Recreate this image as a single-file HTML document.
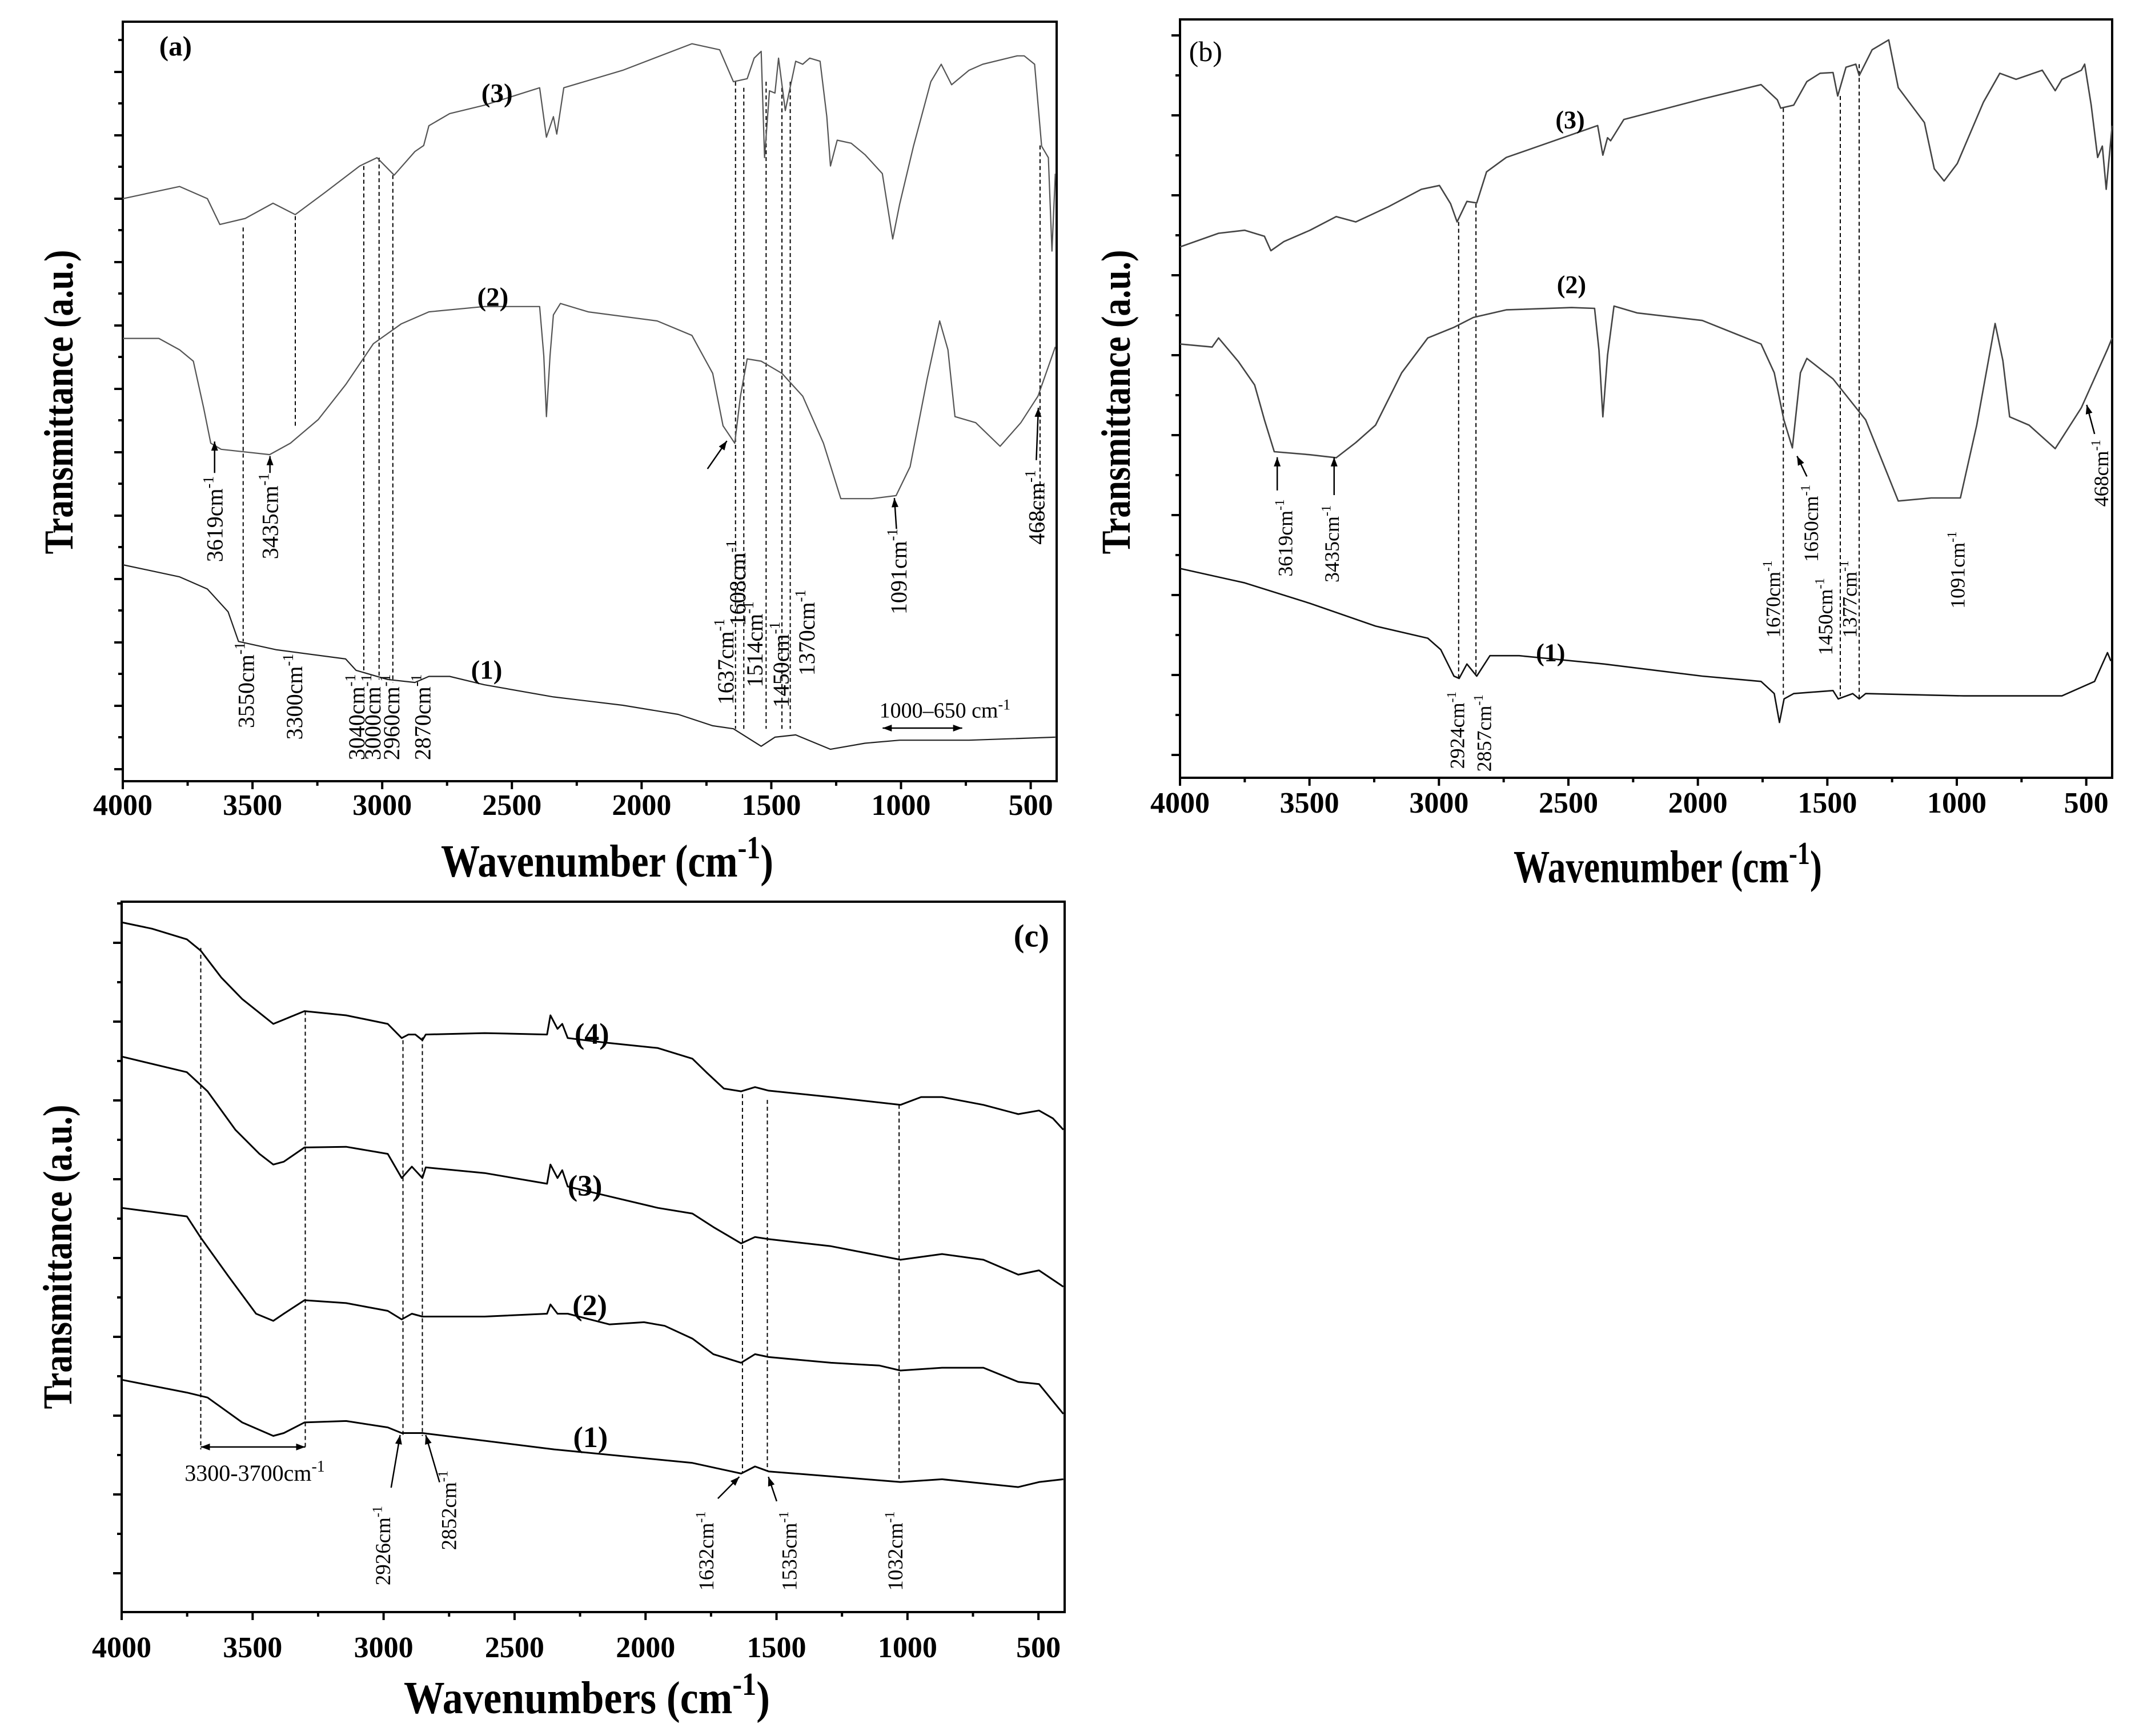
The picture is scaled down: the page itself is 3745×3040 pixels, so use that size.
<!DOCTYPE html>
<html><head><meta charset="utf-8"><style>
html,body{margin:0;padding:0;background:#fff}
svg{display:block}
text{font-family:"Liberation Serif",serif}
</style></head><body>
<svg id="fig" xmlns="http://www.w3.org/2000/svg" width="3745" height="3040" viewBox="0 0 3745 3040"></svg>
<script>
// ---------- Panel (a) data: wavenumber (cm-1) and transmittance (a.u., 0-100 of panel) ----------
const A_CM3=[4000,3781,3674,3626,3528,3421,3335,3221,3087,3020,2954,2874,2840,2820,2740,2607,2393,2367,2340,2327,2300,2073,1806,1699,1646,1593,1566,1539,1526,1507,1486,1472,1446,1406,1379,1352,1312,1286,1272,1246,1192,1139,1072,1032,1005,952,885,845,805,738,685,552,525,485,458,432,418,405];
const A_T3=[76.7,78.3,76.7,73.3,74.1,76.1,74.6,77.5,81.0,82.1,79.8,82.9,83.7,86.3,87.9,89.0,91.3,84.8,87.5,85.2,91.3,93.6,97.1,96.3,92.1,92.5,95.2,96.1,82.1,90.9,90.6,95.2,88.3,94.8,94.4,95.2,94.8,87.5,81.0,84.4,84.0,82.5,80.0,71.4,76.0,83.6,92.1,94.4,91.7,93.6,94.4,95.5,95.5,94.4,83.6,82.1,69.8,80.0];
const A_CM2=[4000,3861,3781,3728,3688,3661,3621,3434,3354,3247,3141,3034,2927,2820,2607,2393,2377,2367,2353,2340,2313,2206,1940,1806,1726,1686,1641,1619,1593,1539,1459,1379,1299,1232,1112,1019,965,899,851,819,792,712,618,538,472,405];
const A_T2=[58.3,58.3,56.8,55.3,49.1,44.5,43.7,43.0,44.5,47.6,52.2,57.6,60.2,61.8,62.5,62.5,56.0,48.0,56.0,61.4,62.9,61.8,60.6,58.7,53.7,46.8,44.5,50.7,55.6,55.3,53.7,50.7,44.5,37.2,37.2,37.6,41.4,53.0,60.6,56.8,48.0,47.2,44.1,47.2,50.7,57.2];
const A_CM1=[4000,3781,3674,3594,3554,3407,3141,3101,2980,2874,2820,2740,2607,2340,2073,1859,1726,1646,1539,1486,1406,1272,1139,1005,738,405];
const A_T1=[28.5,26.9,25.3,22.3,18.4,17.3,16.1,14.6,13.4,13.0,13.8,13.8,12.7,11.1,10.0,8.8,7.3,6.9,4.6,5.8,6.1,4.2,5.0,5.4,5.4,5.8];
const A_DASH_CM=[3536,3335,3071,3012,2959,1638,1606,1520,1459,1427,464];
const A_DASH_TOP=[72.9,74.4,81.0,82.1,79.8,92.1,91.3,92.1,91.3,92.1,83.7];
const A_DASH_BOT=[18.4,46.6,14.6,13.4,13.0,6.9,6.9,6.9,6.9,6.9,33.4];

// ---------- Panel (b) data ----------
const B_CM3=[4000,3851,3750,3674,3649,3599,3498,3397,3321,3195,3068,2998,2955,2930,2892,2854,2816,2740,2614,2387,2367,2349,2337,2286,1983,1756,1693,1680,1630,1579,1528,1478,1460,1428,1390,1377,1327,1263,1226,1125,1087,1049,998,897,834,771,670,620,594,519,506,481,456,438,423,400];
const B_T3=[70.0,71.8,72.2,71.4,69.5,70.7,72.2,74.0,73.3,75.3,77.6,78.1,75.7,73.3,76.0,75.8,79.9,81.8,83.3,86.0,82.1,84.4,84.0,86.8,89.5,91.4,89.4,88.3,88.7,91.8,92.9,93.0,89.9,93.7,94.1,92.6,96.0,97.3,91.0,86.4,80.3,78.7,81.0,89.1,92.9,92.1,93.3,90.6,92.1,93.3,94.1,88.7,81.8,83.3,77.6,86.0];
const B_CM2=[4000,3876,3851,3775,3712,3674,3636,3498,3397,3321,3245,3144,3043,2942,2867,2740,2488,2399,2382,2367,2349,2324,2235,1983,1756,1705,1668,1635,1604,1579,1478,1352,1226,1099,986,923,852,822,796,721,620,519,418,400];
const B_T2=[57.2,56.8,58.0,54.9,51.8,47.2,43.0,42.6,42.2,44.2,46.5,53.4,58.0,59.4,60.7,61.7,62.0,61.9,56.4,47.6,55.7,62.2,61.3,60.3,57.2,53.4,47.2,43.5,53.4,55.3,52.6,47.2,36.5,36.9,36.9,46.5,59.9,55.0,47.6,46.5,43.4,48.8,56.5,58.0];
const B_CM1=[4000,3750,3498,3245,3043,2993,2942,2922,2892,2854,2803,2690,2362,1983,1756,1705,1685,1667,1630,1478,1458,1402,1377,1352,973,594,468,418,405];
const B_T1=[27.6,25.7,23.0,20.0,18.4,16.9,13.4,13.1,15.0,13.4,16.1,16.1,15.0,13.4,12.7,11.1,7.3,10.4,11.1,11.5,10.4,11.1,10.4,11.1,10.8,10.8,12.7,16.5,15.4];
const B_DASH_CM=[2924,2857,1670,1450,1377];
const B_DASH_TOP=[73.3,75.7,88.3,89.9,94.1];
const B_DASH_BOT=[13.1,13.4,10.8,10.4,10.4];

// ---------- Panel (c) data ----------
const C_CM4=[4000,3884,3751,3698,3619,3540,3421,3381,3302,3143,2984,2931,2905,2879,2852,2839,2614,2376,2363,2336,2318,2297,2164,1953,1821,1768,1701,1635,1582,1530,1292,1027,948,868,710,577,498,445,405];
const C_T4=[97.1,96.2,94.7,93.1,89.3,86.3,82.8,83.4,84.6,84.0,82.8,80.8,81.3,81.3,80.5,81.3,81.5,81.3,84.0,82.1,82.8,80.8,80.2,79.4,77.9,76.0,73.7,73.3,73.9,73.4,72.5,71.4,72.5,72.5,71.4,70.1,70.6,69.5,67.9];
const C_CM3=[4000,3751,3672,3566,3474,3421,3381,3302,3143,2984,2931,2892,2852,2839,2614,2376,2363,2336,2318,2297,1953,1821,1741,1635,1582,1530,1292,1027,868,710,577,498,405];
const C_T3=[78.2,76.0,73.3,67.9,64.5,63.0,63.4,65.4,65.5,64.5,61.1,62.7,61.1,62.6,61.8,60.3,63.0,61.1,62.2,59.9,56.9,56.1,54.2,51.9,52.8,52.5,51.5,49.6,50.4,49.6,47.5,48.1,45.8];
const C_CM2=[4000,3751,3698,3593,3487,3421,3381,3302,3143,2984,2931,2892,2852,2614,2376,2363,2336,2297,2138,2006,1927,1821,1741,1635,1582,1530,1292,1107,1027,868,710,577,498,405];
const C_T2=[56.9,55.7,52.7,47.3,42.0,41.0,42.0,43.9,43.5,42.4,41.2,42.0,41.6,41.6,42.0,43.3,42.0,42.0,40.5,40.8,40.3,38.5,36.3,35.1,36.3,35.9,35.1,34.7,34.0,34.4,34.4,32.4,32.1,27.9];
const C_CM1=[4000,3751,3672,3540,3421,3381,3302,3143,2984,2931,2852,2349,1821,1635,1582,1530,1292,1027,868,577,498,405];
const C_T1=[32.7,30.9,30.2,26.7,24.8,25.2,26.7,26.9,26.0,25.2,25.2,22.9,21.0,19.5,20.5,19.8,19.1,18.3,18.7,17.6,18.3,18.7];
const C_DASH_CM=[3698,3299,2926,2852,1630,1535,1032];
const C_DASH_TOP=[93.5,84.6,80.5,80.9,72.9,72.1,71.4];
const C_DASH_BOT=[22.9,22.9,24.8,24.8,19.5,19.8,18.3];

// ---------- Axis tick labels ----------
const X_TICK_LABELS=[4000,3500,3000,2500,2000,1500,1000,500];
const X_MINOR=[3750,3250,2750,2250,1750,1250,750];

const NS='http://www.w3.org/2000/svg';
const svg=document.getElementById('fig');
function el(tag,attrs,parent){const e=document.createElementNS(NS,tag);for(const k in attrs)e.setAttribute(k,attrs[k]);(parent||svg).appendChild(e);return e;}

const panels={
  a:{x0:215,x1:1850,y0:38,y1:1368,tickBase:1427,ytMaj:126,ytStep:111,ytMin:70,titleY:1535,ytitleY:704,xtitle:'Wavenumber (cm',xtx0:772,xtx1:1354},
  b:{x0:2066,x1:3698,y0:34,y1:1362,tickBase:1423,ytMaj:62,ytStep:140,ytMin:132,titleY:1545,ytitleY:704,xtitle:'Wavenumber (cm',xtx0:2650,xtx1:3190},
  c:{x0:213,x1:1864,y0:1579,y1:2823,tickBase:2902,ytMaj:1651,ytStep:138,ytMin:1582,titleY:3000,ytitleY:2201,xtitle:'Wavenumbers (cm',xtx0:707,xtx1:1348}
};
function xs(p){return cm=>p.x0+(4000-cm)*(p.x1-p.x0)/3600;}
function ys(p){return v=>p.y1-v*(p.y1-p.y0)/100;}
// display-coordinate helpers for annotation placement
const D={a:(x,y)=>[x*1.212,y*1.02],b:(x,y)=>[1950+x*1.1448,y*1.02],c:(x,y)=>[x*1.212,1550+y*0.9506]};

function drawAxes(key,g){
  const p=panels[key],X=xs(p);
  const fr=el('rect',{x:p.x0,y:p.y0,width:p.x1-p.x0,height:p.y1-p.y0,fill:'none',stroke:'#000','stroke-width':4},g);
  
  
  X_TICK_LABELS.forEach(v=>{
    const x=X(v);
    const t=el('line',{x1:x,y1:p.y1,x2:x,y2:p.y1+14,stroke:'#000','stroke-width':4},g);
    
    
    const lb=el('text',{x:x,y:p.tickBase,'text-anchor':'middle','font-size':52,'font-weight':'bold'},g);
    lb.textContent=v;
    
    
  });
  X_MINOR.forEach(v=>{
    const x=X(v);
    const t=el('line',{x1:x,y1:p.y1,x2:x,y2:p.y1+8,stroke:'#000','stroke-width':4},g);
    
    
  });
  for(let y=p.ytMaj;y<p.y1-5;y+=p.ytStep){
    const t=el('line',{x1:p.x0-15,y1:y,x2:p.x0,y2:y,stroke:'#000','stroke-width':4},g);
    
    
  }
  for(let y=p.ytMin;y<p.y1-5;y+=p.ytStep){
    const t=el('line',{x1:p.x0-8,y1:y,x2:p.x0,y2:y,stroke:'#000','stroke-width':4},g);
    
    
  }
  const xt=el('text',{x:p.xtx0,y:p.titleY,'font-size':80,'font-weight':'bold',textLength:p.xtx1-p.xtx0,lengthAdjust:'spacingAndGlyphs'},g);
  xt.innerHTML=p.xtitle+'<tspan font-size="56" dy="-32">-1</tspan><tspan dy="32">)</tspan>';
  
  
  const yx=p.x0-88;
  const yt=el('text',{x:yx,y:p.ytitleY,'text-anchor':'middle','font-size':72,'font-weight':'bold',textLength:533,lengthAdjust:'spacingAndGlyphs',transform:`rotate(-90 ${yx} ${p.ytitleY})`},g);
  yt.textContent='Transmittance (a.u.)';
  
  
}

function drawSeries(key,g,cms,vals,color,w,name){
  const p=panels[key],X=xs(p),Y=ys(p);
  const d=cms.map((c,i)=>(i?'L':'M')+X(c).toFixed(1)+' '+Y(vals[i]).toFixed(1)).join(' ');
  const path=el('path',{d:d,fill:'none',stroke:color,'stroke-width':w,'stroke-linejoin':'round'},g);
  
  
}
function drawDashes(key,g,cms,tops,bots){
  const p=panels[key],X=xs(p),Y=ys(p);
  cms.forEach((c,i)=>{
    const l=el('line',{x1:X(c),x2:X(c),y1:Y(tops[i]),y2:Y(bots[i]),stroke:'#000','stroke-width':2,'stroke-dasharray':'7,5'},g);
    
    
  });
}
function vlabel(key,g,xd,ydb,num,fs){
  const [x,y]=D[key](xd,ydb);const bx=x+fs*0.35;
  const t=el('text',{x:bx,y:y,'font-size':fs,transform:`rotate(-90 ${bx} ${y})`},g);
  t.innerHTML=num+'cm<tspan font-size="'+(fs*0.65)+'" dy="'+(-fs*0.4)+'">-1</tspan>';
  
  
}
function hlabel(key,g,xd,yd,html,fs,bold,name,anchor){
  const [x,y]=D[key](xd,yd);
  const t=el('text',{x:x,y:y,'font-size':fs,'text-anchor':anchor||'middle','font-weight':bold?'bold':'normal'},g);
  t.innerHTML=html;
  
  
}
function arrow(key,g,xa,ya,xb,yb,both){
  const [x1,y1]=D[key](xa,ya),[x2,y2]=D[key](xb,yb);
  const l=el('line',{x1:x1,y1:y1,x2:x2,y2:y2,stroke:'#000','stroke-width':2.5},g);
  
  
  const head=(px,py,qx,qy)=>{const a=Math.atan2(qy-py,qx-px),L=16,W=6;
    const pts=[[qx,qy],[qx-L*Math.cos(a)+W*Math.sin(a),qy-L*Math.sin(a)-W*Math.cos(a)],[qx-L*Math.cos(a)-W*Math.sin(a),qy-L*Math.sin(a)+W*Math.cos(a)]];
    const h=el('polygon',{points:pts.map(q=>q.join(',')).join(' '),fill:'#000'},g);
    
    };
  head(x1,y1,x2,y2);if(both)head(x2,y2,x1,y1);
}

// ---------- Panel a ----------
const ga=el('g',{});


drawAxes('a',ga);
drawDashes('a',ga,A_DASH_CM,A_DASH_TOP,A_DASH_BOT);
drawSeries('a',ga,A_CM3,A_T3,'#555',2.2,'spectrum-a-3');
drawSeries('a',ga,A_CM2,A_T2,'#555',2.2,'spectrum-a-2');
drawSeries('a',ga,A_CM1,A_T1,'#222',2.2,'spectrum-a-1');
hlabel('a',ga,230,95,'(a)',49,true,'panel-label-a','start');
hlabel('a',ga,718,175,'(3)',47,true,'curve-label-3');
hlabel('a',ga,712,525,'(2)',47,true,'curve-label-2');
hlabel('a',ga,703,1165,'(1)',47,true,'curve-label-1');
[[310,965,'3619'],[390,960,'3435'],[355,1250,'3550'],[425,1270,'3300'],[515,1305,'3040'],[538,1305,'3000'],[565,1305,'2960'],[610,1305,'2870'],[1048,1210,'1637'],[1065,1075,'1608'],[1090,1180,'1514'],[1128,1215,'1450'],[1165,1160,'1370'],[1298,1055,'1091'],[1497,935,'468']].forEach(l=>vlabel('a',ga,l[0],l[1],l[2],40));
arrow('a',ga,310,812,310,758);
arrow('a',ga,390,812,390,783);
arrow('a',ga,1022,805,1050,757);
arrow('a',ga,1295,908,1292,855);
arrow('a',ga,1497,790,1500,700);
arrow('a',ga,1275,1250,1390,1250,true);
hlabel('a',ga,1365,1232,'1000–650 cm<tspan font-size="26" dy="-14">-1</tspan>',38,false,'range-label-1000-650');

// ---------- Panel b ----------
const gb=el('g',{});


drawAxes('b',gb);
drawDashes('b',gb,B_DASH_CM,B_DASH_TOP,B_DASH_BOT);
drawSeries('b',gb,B_CM3,B_T3,'#444',2.6,'spectrum-b-3');
drawSeries('b',gb,B_CM2,B_T2,'#444',2.6,'spectrum-b-2');
drawSeries('b',gb,B_CM1,B_T1,'#111',2.6,'spectrum-b-1');
hlabel('b',gb,115,105,'(b)',50,false,'panel-label-b','start');
hlabel('b',gb,698,220,'(3)',44,true,'curve-label-3');
hlabel('b',gb,700,503,'(2)',44,true,'curve-label-2');
hlabel('b',gb,668,1135,'(1)',44,true,'curve-label-1');
[[262,990,'3619'],[333,1000,'3435'],[525,1320,'2924'],[566,1325,'2857'],[1008,1095,'1670'],[1066,965,'1650'],[1088,1125,'1450'],[1125,1095,'1377'],[1290,1045,'1091'],[1510,870,'468']].forEach(l=>vlabel('b',gb,l[0],l[1],l[2],36));
arrow('b',gb,250,842,250,785);
arrow('b',gb,337,850,337,785);
arrow('b',gb,1060,818,1045,783);
arrow('b',gb,1500,745,1488,695);

// ---------- Panel c ----------
const gc=el('g',{});


drawAxes('c',gc);
drawDashes('c',gc,C_DASH_CM,C_DASH_TOP,C_DASH_BOT);
drawSeries('c',gc,C_CM4,C_T4,'#000',3,'spectrum-c-4');
drawSeries('c',gc,C_CM3,C_T3,'#000',3,'spectrum-c-3');
drawSeries('c',gc,C_CM2,C_T2,'#000',3,'spectrum-c-2');
drawSeries('c',gc,C_CM1,C_T1,'#000',3,'spectrum-c-1');
hlabel('c',gc,1490,113,'(c)',56,true,'panel-label-c');
hlabel('c',gc,855,292,'(4)',52,true,'curve-label-4');
hlabel('c',gc,845,572,'(3)',52,true,'curve-label-3');
hlabel('c',gc,852,792,'(2)',52,true,'curve-label-2');
hlabel('c',gc,853,1035,'(1)',52,true,'curve-label-1');
[[553,1290,'2926'],[648,1225,'2852'],[1020,1300,'1632'],[1140,1300,'1535'],[1293,1300,'1032']].forEach(l=>vlabel('c',gc,l[0],l[1],l[2],37));
arrow('c',gc,290,1035,441,1035,true);
hlabel('c',gc,368,1097,'3300-3700cm<tspan font-size="28" dy="-16">-1</tspan>',40,false,'range-label-3300-3700');
arrow('c',gc,565,1110,578,1013);
arrow('c',gc,635,1100,615,1013);
arrow('c',gc,1037,1130,1068,1090);
arrow('c',gc,1122,1135,1110,1090);
</script>
</body></html>
